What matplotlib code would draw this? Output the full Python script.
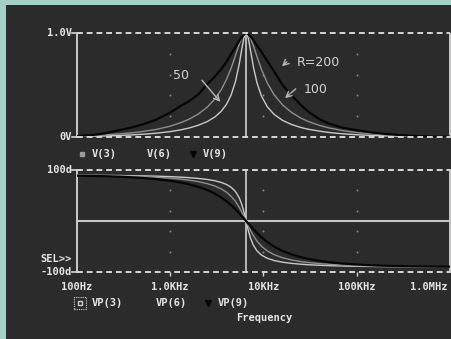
import matplotlib
matplotlib.use("Agg")
import matplotlib.pyplot as plt
import numpy as np
from matplotlib.lines import Line2D
from matplotlib.patches import Rectangle

# frequency sweep (Hz)
freq = [100, 150, 200, 300, 400, 500, 700, 1000, 1300, 1600, 2000, 2500, 3000, 3500,
        4000, 4500, 5000, 5500, 5800, 6100, 6300, 6500, 6700, 6900, 7300, 7800, 8500,
        9500, 11000, 13000, 16000, 20000, 25000, 30000, 40000, 50000, 70000, 100000,
        150000, 200000, 300000, 500000, 1000000]

# magnitude traces (V)
v9 = [0.01, 0.02, 0.035, 0.07, 0.095, 0.12, 0.165, 0.235, 0.30, 0.345, 0.41, 0.51, 0.58, 0.65,
      0.72, 0.80, 0.865, 0.925, 0.955, 0.98, 0.993, 1.0, 0.995, 0.985, 0.965, 0.93, 0.88,
      0.82, 0.73, 0.63, 0.50, 0.40, 0.31, 0.245, 0.17, 0.13, 0.09, 0.065,
      0.042, 0.03, 0.018, 0.008, 0.004]
v6 = [0.010, 0.015, 0.021, 0.031, 0.041, 0.052, 0.072, 0.104, 0.138, 0.172, 0.221, 0.288, 0.364, 0.451,
      0.551, 0.663, 0.782, 0.893, 0.946, 0.982, 0.996, 1.0, 0.996, 0.984, 0.944, 0.876, 0.775,
      0.651, 0.518, 0.406, 0.309, 0.236, 0.183, 0.150, 0.111, 0.088, 0.062, 0.043,
      0.029, 0.022, 0.014, 0.009, 0.004]
v3 = [0.005, 0.008, 0.010, 0.015, 0.021, 0.026, 0.036, 0.052, 0.069, 0.087, 0.113, 0.149, 0.192, 0.245,
      0.313, 0.405, 0.532, 0.704, 0.825, 0.934, 0.983, 1.0, 0.984, 0.941, 0.819, 0.672, 0.523,
      0.394, 0.290, 0.217, 0.160, 0.120, 0.092, 0.075, 0.056, 0.044, 0.031, 0.022,
      0.014, 0.011, 0.007, 0.004, 0.002]

# phase traces (degrees)
vp9 = [88.9, 88.3, 87.8, 86.7, 85.6, 84.5, 82.2, 78.9, 75.4, 71.9, 66.9, 60.6, 53.8, 46.5,
       38.9, 31.0, 23.0, 15.0, 10.3, 5.8, 2.9, 0, -2.8, -5.5, -10.6, -16.4, -23.5,
       -31.9, -41.4, -50.2, -58.7, -65.6, -70.8, -74.1, -78.2, -80.6, -83.3, -85.3,
       -86.9, -87.7, -88.4, -89.1, -89.6]
vp6 = [89.4, 89.1, 88.8, 88.2, 87.6, 87.0, 85.9, 84.0, 82.1, 80.1, 77.2, 73.2, 68.7, 63.2,
       56.6, 48.4, 38.6, 26.7, 18.9, 10.8, 5.4, 0, -5.3, -10.1, -19.3, -28.8, -39.2,
       -49.4, -58.8, -66.0, -72.0, -76.4, -79.5, -81.4, -83.6, -84.9, -86.4, -87.5,
       -88.3, -88.8, -89.2, -89.5, -89.8]
vp3 = [89.7, 89.6, 89.4, 89.1, 88.8, 88.5, 87.9, 87.0, 86.0, 85.0, 83.5, 81.4, 79.0, 75.8,
       71.7, 66.1, 57.9, 45.2, 34.4, 20.9, 10.6, 0, -10.4, -19.7, -35.0, -47.7, -58.5,
       -66.8, -73.1, -77.5, -80.8, -83.1, -84.7, -85.7, -86.8, -87.5, -88.2, -88.8,
       -89.2, -89.4, -89.6, -89.8, -89.9]

f_res = 6500
xticks = [100, 1000, 10000, 100000, 1000000]
xlabels = ["100Hz", "1.0KHz", "10KHz", "100KHz", "1.0MHz"]

W, H = 452, 339
BG = "#2b2b2b"
FG = "#e6e6e6"
TEAL = "#a4cfc6"
EDGE = "#d6d6d6"
MONO = dict(family="DejaVu Sans Mono", weight="bold", size=7.5, color=FG)


def fx(px):
    return px / W


def fy(py):
    return 1 - py / H


fig = plt.figure(figsize=(W / 100, H / 100), dpi=100)
fig.patch.set_facecolor(TEAL)
fig.add_artist(Rectangle((fx(6), 0), 1 - fx(6), fy(5), transform=fig.transFigure,
                         facecolor=BG, edgecolor="none", zorder=0))

ax1 = fig.add_axes([fx(77), fy(137), fx(450) - fx(77), fy(33) - fy(137)])
ax2 = fig.add_axes([fx(77), fy(272), fx(450) - fx(77), fy(170) - fy(272)])

colors = ["#c9c9c9", "#8e8e8e", "#050505"]
widths = [1.0, 1.0, 1.6]

for ax, lims in ((ax1, (0, 1)), (ax2, (-100, 100))):
    ax.set_facecolor("none")
    ax.set_xscale("log")
    ax.set_xlim(100, 1e6)
    ax.set_ylim(*lims)
    for s in ("top", "bottom"):
        ax.spines[s].set_visible(False)
    for s in ("left", "right"):
        ax.spines[s].set_color(EDGE)
        ax.spines[s].set_linestyle((0, (1, 1)))
        ax.spines[s].set_linewidth(1.3)
    for yv in lims:
        ax.axhline(yv, color=EDGE, lw=1.4, linestyle=(0, (3, 2)), clip_on=False, zorder=4)
    ax.tick_params(which="both", length=0, labelleft=False, labelbottom=False)
    ax.xaxis.set_minor_locator(matplotlib.ticker.NullLocator())
    ax.axvline(f_res, color="#cfcfcf", lw=1.2, zorder=2)

# magnitude panel
for y, c, w in zip([v3, v6, v9], colors, widths):
    ax1.plot(freq, y, color=c, lw=w, zorder=3)
gx, gy = np.meshgrid(xticks[1:-1], [0.2, 0.4, 0.6, 0.8])
ax1.scatter(gx.ravel(), gy.ravel(), s=2, color="#8a8a8a", zorder=1, linewidths=0)

# phase panel
ax2.axhline(0, color="#c4c4c4", lw=1.5, zorder=2)
for y, c, w in zip([vp3, vp6, vp9], colors, widths):
    ax2.plot(freq, y, color=c, lw=w, zorder=3)
gx, gy = np.meshgrid(xticks[1:-1], [60, 20, -20, -60])
ax2.scatter(gx.ravel(), gy.ravel(), s=2, color="#8a8a8a", zorder=1, linewidths=0)
ax2.set_xticks(xticks[1:-1])
ax2.tick_params(axis="x", which="major", length=3, width=1, color=EDGE, direction="out")

# annotations
ann = dict(color="#d4d4d4", fontsize=9, family="DejaVu Sans")
arw = dict(arrowstyle="->", color="#b8b8b8", lw=1)
ax1.annotate("", xy=(0.389, 0.317), xytext=(0.330, 0.567), xycoords="axes fraction", arrowprops=arw)
ax1.text(0.279, 0.596, "50", transform=ax1.transAxes, ha="center", va="center", **ann)
ax1.annotate("", xy=(0.544, 0.663), xytext=(0.568, 0.74), xycoords="axes fraction", arrowprops=arw)
ax1.text(0.646, 0.721, "R=200", transform=ax1.transAxes, ha="center", va="center", **ann)
ax1.annotate("", xy=(0.552, 0.356), xytext=(0.592, 0.48), xycoords="axes fraction", arrowprops=arw)
ax1.text(0.641, 0.46, "100", transform=ax1.transAxes, ha="center", va="center", **ann)

# y labels
fig.text(fx(72), fy(33), "1.0V", ha="right", va="center", **MONO)
fig.text(fx(72), fy(137), "0V", ha="right", va="center", **MONO)
fig.text(fx(72), fy(170), "100d", ha="right", va="center", **MONO)
fig.text(fx(72), fy(272), "-100d", ha="right", va="center", **MONO)
fig.text(fx(72), fy(259), "SEL>>", ha="right", va="center", **MONO)
for px, py in [(72, 33), (72, 137), (72, 170), (72, 272)]:
    fig.add_artist(Line2D([fx(px), fx(77)], [fy(py), fy(py)], color=EDGE, lw=1.2,
                          transform=fig.transFigure))

# x labels
for f, lab in zip(xticks, xlabels):
    xp = 77 + 93.25 * np.log10(f / 100)
    if lab == "1.0MHz":
        fig.text(fx(448), fy(287), lab, ha="right", va="center", **MONO)
    else:
        fig.text(fx(xp), fy(287), lab, ha="center", va="center", **MONO)
fig.text(fx(264), fy(318), "Frequency", ha="center", va="center", **MONO)

# legends
fig.add_artist(Line2D([fx(82)], [fy(154)], marker="s", ms=2.5, color="#9a9a9a", lw=0,
                      transform=fig.transFigure))
fig.text(fx(92), fy(154), "V(3)", ha="left", va="center", **MONO)
fig.text(fx(147), fy(154), "V(6)", ha="left", va="center", **MONO)
fig.add_artist(Line2D([fx(193)], [fy(154)], marker="v", ms=4, color="#050505", lw=0,
                      transform=fig.transFigure))
fig.text(fx(203), fy(154), "V(9)", ha="left", va="center", **MONO)

fig.add_artist(Rectangle((fx(74), fy(309)), fx(12), fy(0) - fy(12), transform=fig.transFigure,
                         facecolor="none", edgecolor="#cfcfcf", lw=0.8, linestyle=(0, (1, 1))))
fig.add_artist(Line2D([fx(80)], [fy(303)], marker="s", ms=3, mfc="none", mec="#cfcfcf", lw=0,
                      transform=fig.transFigure))
fig.text(fx(92), fy(303), "VP(3)", ha="left", va="center", **MONO)
fig.text(fx(156), fy(303), "VP(6)", ha="left", va="center", **MONO)
fig.add_artist(Line2D([fx(208)], [fy(303)], marker="v", ms=4, color="#050505", lw=0,
                      transform=fig.transFigure))
fig.text(fx(218), fy(303), "VP(9)", ha="left", va="center", **MONO)

fig.savefig("out.png", dpi=100, facecolor=fig.get_facecolor())
